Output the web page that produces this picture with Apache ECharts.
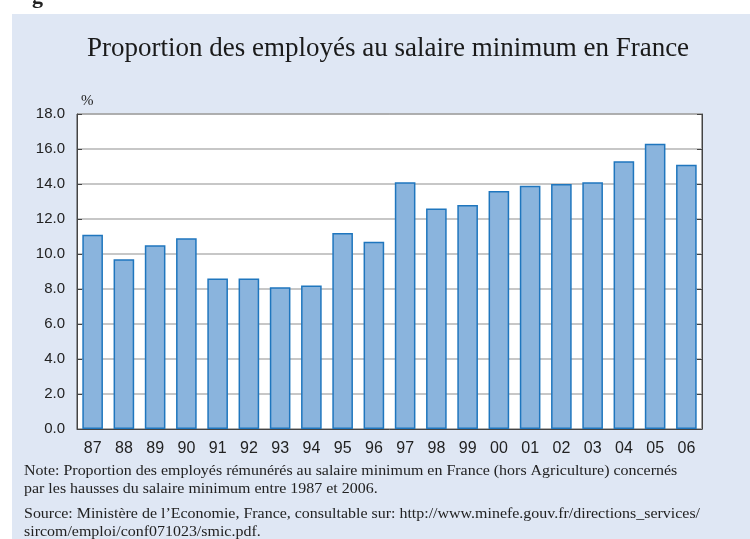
<!DOCTYPE html>
<html>
<head>
<meta charset="utf-8">
<script src="https://cdn.jsdelivr.net/npm/echarts@6/dist/echarts.min.js"></script>
<style>
  html, body { margin: 0; padding: 0; background: #fff; }
  #chart { width: 750px; height: 539px; }
</style>
</head>
<body>
<div id="chart"></div>
<script>
// années (1987 - 2006)
const years = ['87', '88', '89', '90', '91', '92', '93', '94', '95', '96',
  '97', '98', '99', '00', '01', '02', '03', '04', '05', '06']
// proportion des employés au salaire minimum, en %
const share = [11.1, 9.7, 10.5, 10.9, 8.6, 8.6, 8.1, 8.2, 11.2, 10.7,
  14.1, 12.6, 12.8, 13.6, 13.9, 14.0, 14.1, 15.3, 16.3, 15.1]
const yMin = 0
const yMax = 18
const yStep = 2

const serif = '"Liberation Serif", "DejaVu Serif", serif'
const sans = '"Liberation Sans", Arial, sans-serif'

const chart = echarts.init(document.getElementById('chart'))

chart.setOption({
  animation: false,
  backgroundColor: '#fff',
  graphic: [
    { // fond bleu clair
      type: 'rect', left: 12, top: 14, z: -10,
      shape: { width: 738, height: 525 },
      style: { fill: '#dfe7f4' }
    },
    { // morceau de lettre coupé en haut
      type: 'text', left: 32, top: -14,
      style: { text: 'g', font: 'bold 22px ' + serif, fill: '#222' }
    },
    {
      type: 'text', left: 81, top: 94,
      style: { text: '%', font: '15px ' + serif, fill: '#222' }
    },
    {
      type: 'text', x: 24, y: 462, scaleX: 1.14,
      style: {
        text: 'Note: Proportion des employés rémunérés au salaire minimum en France (hors Agriculture) concernés\npar les hausses du salaire minimum entre 1987 et 2006.',
        font: '14px ' + serif, lineHeight: 18, fill: '#222'
      }
    },
    {
      type: 'text', x: 24, y: 505, scaleX: 1.14,
      style: {
        text: 'Source: Ministère de l\u2019Economie, France, consultable sur: http://www.minefe.gouv.fr/directions_services/\nsircom/emploi/conf071023/smic.pdf.',
        font: '14px ' + serif, lineHeight: 18, fill: '#222'
      }
    }
  ],
  title: {
    text: 'Proportion des employés au salaire minimum en France',
    left: 82,
    top: 30,
    textStyle: { fontFamily: serif, fontWeight: 'normal', fontSize: 27, color: '#1a1a1a' }
  },
  grid: {
    left: 77,
    right: 48,
    top: 114,
    bottom: 110,
    show: true,
    backgroundColor: '#fff',
    borderColor: '#444',
    borderWidth: 1
  },
  xAxis: {
    type: 'category',
    data: years,
    axisLine: { lineStyle: { color: '#444', width: 1 } },
    axisTick: { inside: true, length: 5, lineStyle: { color: '#444' } },
    axisLabel: { fontFamily: sans, fontSize: 16, color: '#222', margin: 12 }
  },
  yAxis: [{
    type: 'value',
    min: yMin,
    max: yMax,
    interval: yStep,
    axisLine: { show: true, lineStyle: { color: '#444', width: 1 } },
    axisTick: { show: true, inside: true, length: 5, lineStyle: { color: '#444' } },
    axisLabel: {
      fontFamily: sans, fontSize: 15, color: '#222', margin: 12,
      formatter: v => v.toFixed(1)
    },
    splitLine: { lineStyle: { color: '#b5b5b5', width: 1.5 } }
  }, {
    type: 'value',
    min: yMin,
    max: yMax,
    interval: yStep,
    position: 'right',
    axisLine: { show: true, lineStyle: { color: '#444', width: 1 } },
    axisTick: { show: true, inside: true, length: 5, lineStyle: { color: '#444' } },
    axisLabel: { show: false },
    splitLine: { show: false }
  }],
  series: [{
    type: 'bar',
    data: share,
    barWidth: '66%',
    itemStyle: {
      color: '#8ab4dd',
      borderColor: '#1f76be',
      borderWidth: 1.5
    }
  }]
})
</script>
</body>
</html>
